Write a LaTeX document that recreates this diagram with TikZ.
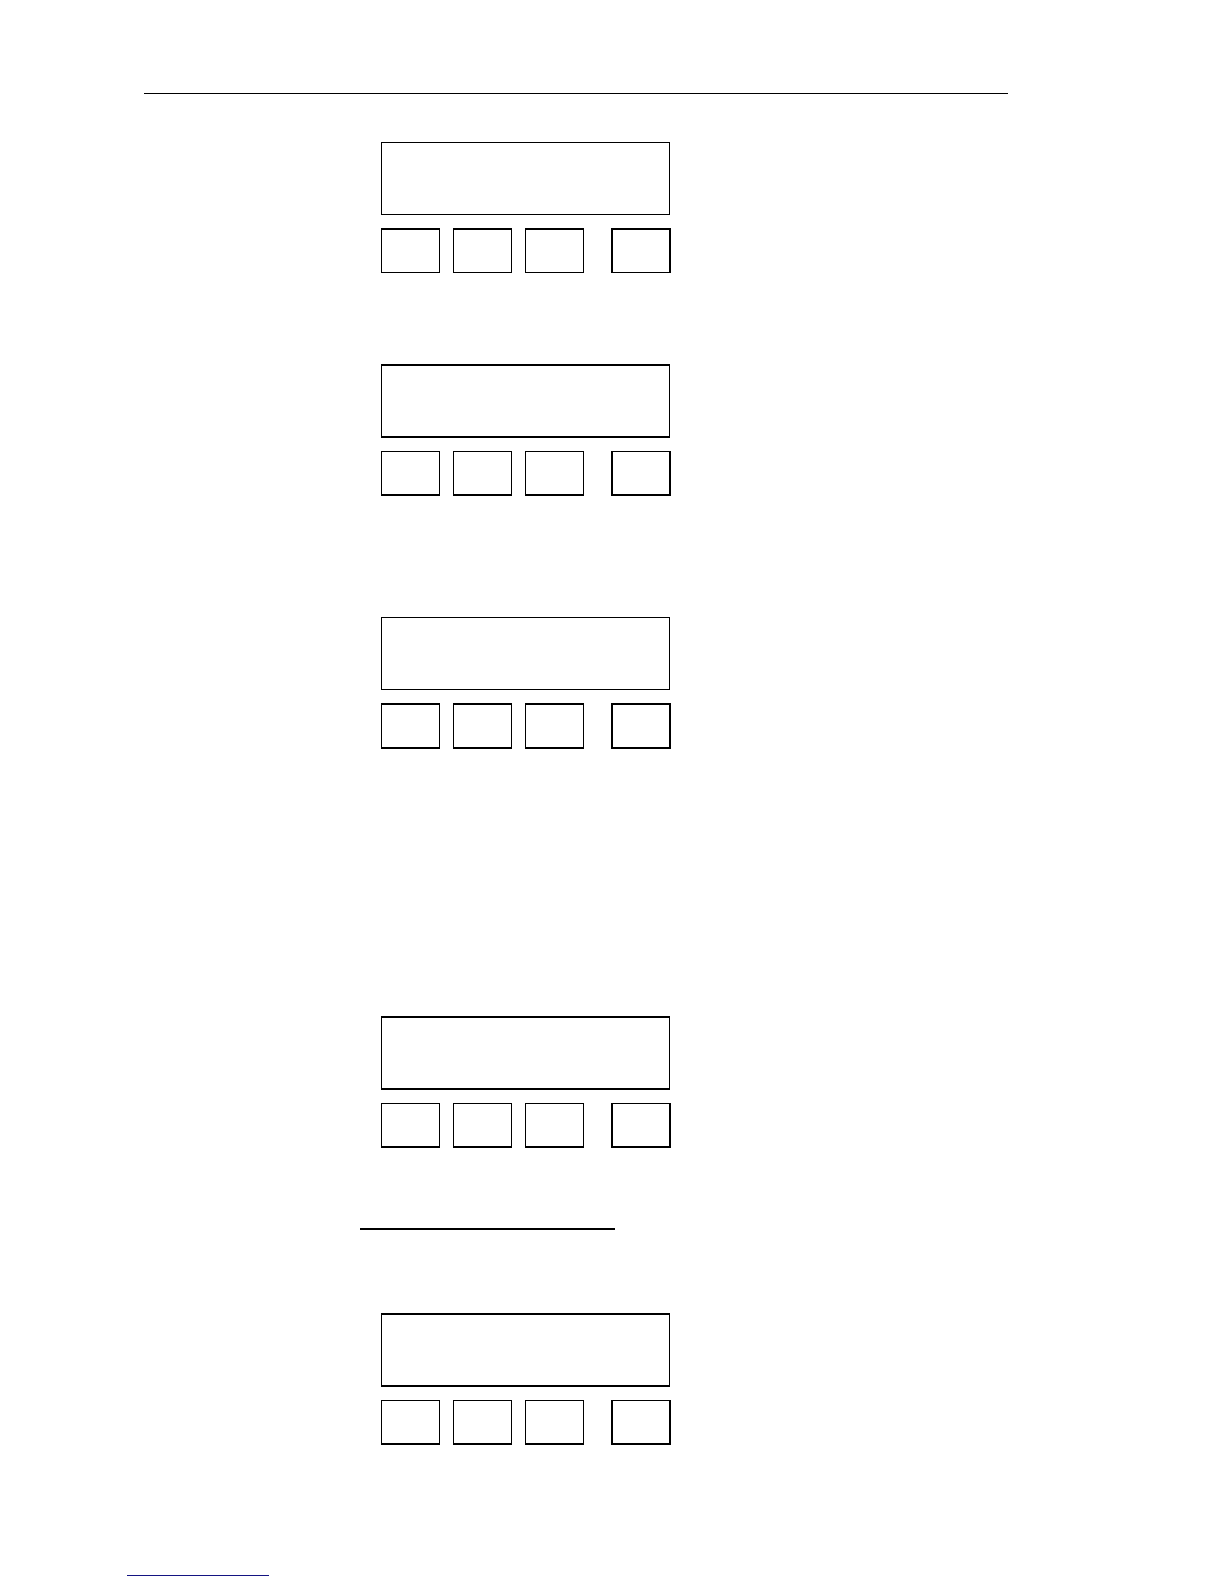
\documentclass[tikz,border=0pt]{standalone}
\usetikzlibrary{positioning}
\definecolor{navyline}{RGB}{20,20,130}
\begin{document}
\begin{tikzpicture}[x=1pt,y=-1pt,
  display/.style={draw=black,line width=1.4pt,rectangle,minimum width=288.4pt,minimum height=72pt,inner sep=0pt,outer sep=0pt,anchor=north west},
  keybox/.style={draw=black,line width=1.6pt,rectangle,minimum width=58pt,minimum height=43.5pt,inner sep=0pt,outer sep=0pt,anchor=north west},
  rule/.style={draw=black,line width=1.1pt}]
\useasboundingbox[fill=white] (0,0) rectangle (1224,1584);
% header rule
\coordinate (hl) at (144,93.3);
\coordinate (hr) at (1007.7,93.3);
\draw[rule] (hl) -- (hr);
% panels
\foreach \i/\y in {1/142.3,2/365,3/617.7,4/1017,5/1314}{
  \node[display] (d\i) at (381.3,\y) {};
  \node[keybox] (k\i a) at (381.3,\y+86.5) {};
  \node[keybox] (k\i b) at (453.3,\y+86.5) {};
  \node[keybox] (k\i c) at (525.3,\y+86.5) {};
  \node[keybox] (k\i d) at (611.7,\y+86.5) {};
}
% separator rule
\coordinate (sl) at (360,1228.8);
\coordinate (sr) at (615,1228.8);
\draw[draw=black,line width=2pt] (sl) -- (sr);
% footnote rule
\coordinate (fl) at (127,1575.3);
\coordinate (fr) at (269,1575.3);
\draw[draw=navyline,line width=1.2pt] (fl) -- (fr);
\end{tikzpicture}
\end{document}
